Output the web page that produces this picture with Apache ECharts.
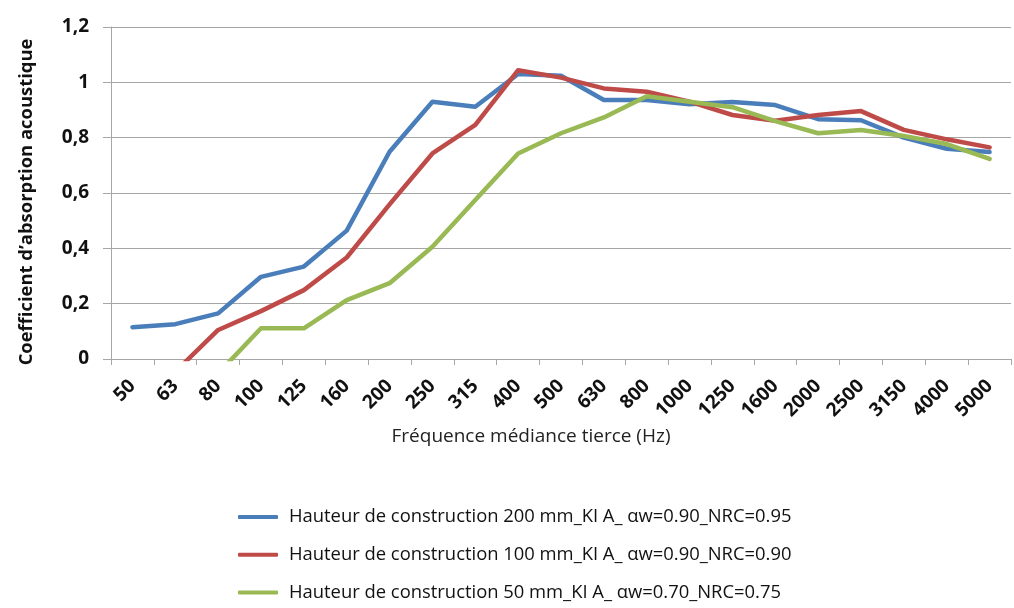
<!DOCTYPE html>
<html>
<head>
<meta charset="utf-8">
<script src="https://cdn.jsdelivr.net/npm/echarts@6/dist/echarts.min.js"></script>
<style>
html,body{margin:0;padding:0;background:#fff;}
#chart{width:1014px;height:608px;}
</style>
</head>
<body>
<div id="chart"></div>
<script>
var categories = ['50','63','80','100','125','160','200','250','315','400','500','630','800','1000','1250','1600','2000','2500','3150','4000','5000'];
var seriesNames = [
  'Hauteur de construction 200 mm_KI A_ \u03b1w=0.90_NRC=0.95',
  'Hauteur de construction 100 mm_KI A_ \u03b1w=0.90_NRC=0.90',
  'Hauteur de construction 50 mm_KI A_ \u03b1w=0.70_NRC=0.75'
];
var h200 = [0.115,0.126,0.165,0.297,0.334,0.464,0.749,0.930,0.912,1.030,1.024,0.936,0.936,0.921,0.929,0.918,0.867,0.863,0.800,0.760,0.748];
var h100 = [null,-0.046,0.105,0.173,0.249,0.367,0.559,0.743,0.846,1.044,1.017,0.978,0.966,0.930,0.882,0.861,0.882,0.896,0.828,0.794,0.765];
var h50  = [null,null,-0.052,0.111,0.111,0.213,0.274,0.406,0.575,0.743,0.816,0.873,0.950,0.930,0.910,0.860,0.816,0.828,0.806,0.777,0.723];
var yTicks = [0,0.2,0.4,0.6,0.8,1,1.2];
var colors = ['#4A7EBB','#BE4B48','#98B954'];

var FONT = 'Open Sans';
var chart = echarts.init(document.getElementById('chart'));
function mk(name, data, color){
  return {name:name,type:'line',data:data,symbol:'none',smooth:false,clip:true,
    connectNulls:false,
    lineStyle:{width:4.5,color:color,cap:'round',join:'round'},itemStyle:{color:color}};
}
chart.setOption({
  animation:false,
  textStyle:{fontFamily:FONT},
  grid:{left:111,top:27,right:3,bottom:249,containLabel:false},
  legend:{
    orient:'vertical',left:233,top:503,itemWidth:40,itemHeight:4,itemGap:19.8,
    icon:'roundRect',
    textStyle:{fontFamily:FONT,fontSize:18.4,color:'#111',padding:[0,0,0,6]},
    data:seriesNames
  },
  xAxis:{
    type:'category',data:categories,boundaryGap:true,
    name:'Fr\u00e9quence m\u00e9diance tierce (Hz)',nameLocation:'middle',nameGap:68,
    nameTextStyle:{fontFamily:FONT,fontSize:19,color:'#222',padding:[0,60,0,0]},
    axisLine:{lineStyle:{color:'#A6A6A6',width:1}},
    axisTick:{show:true,length:6,alignWithLabel:false,lineStyle:{color:'#A6A6A6'}},
    axisLabel:{rotate:45,interval:0,margin:24,fontFamily:FONT,fontSize:19,fontWeight:'bold',color:'#111'},
    splitLine:{show:false}
  },
  yAxis:{
    type:'value',min:0,max:1.2,interval:0.2,
    name:'Coefficient d\u2019absorption acoustique',nameLocation:'middle',nameGap:75,
    nameTextStyle:{fontFamily:FONT,fontSize:18.4,fontWeight:'bold',color:'#111',padding:[0,18,0,0]},
    axisLine:{show:true,lineStyle:{color:'#A6A6A6',width:1}},
    axisTick:{show:true,length:8,lineStyle:{color:'#A6A6A6'}},
    axisLabel:{margin:22,fontFamily:FONT,fontSize:19,fontWeight:'bold',color:'#111',
      formatter:function(v){
        var t = yTicks.filter(function(x){return Math.abs(x-v)<1e-9;});
        var val = t.length? t[0] : v;
        return String(Math.round(val*10)/10).replace('.',',');
      }},
    splitLine:{show:true,lineStyle:{color:'#A6A6A6',width:1}}
  },
  series:[mk(seriesNames[0],h200,colors[0]),mk(seriesNames[1],h100,colors[1]),mk(seriesNames[2],h50,colors[2])]
});
</script>
</body>
</html>
